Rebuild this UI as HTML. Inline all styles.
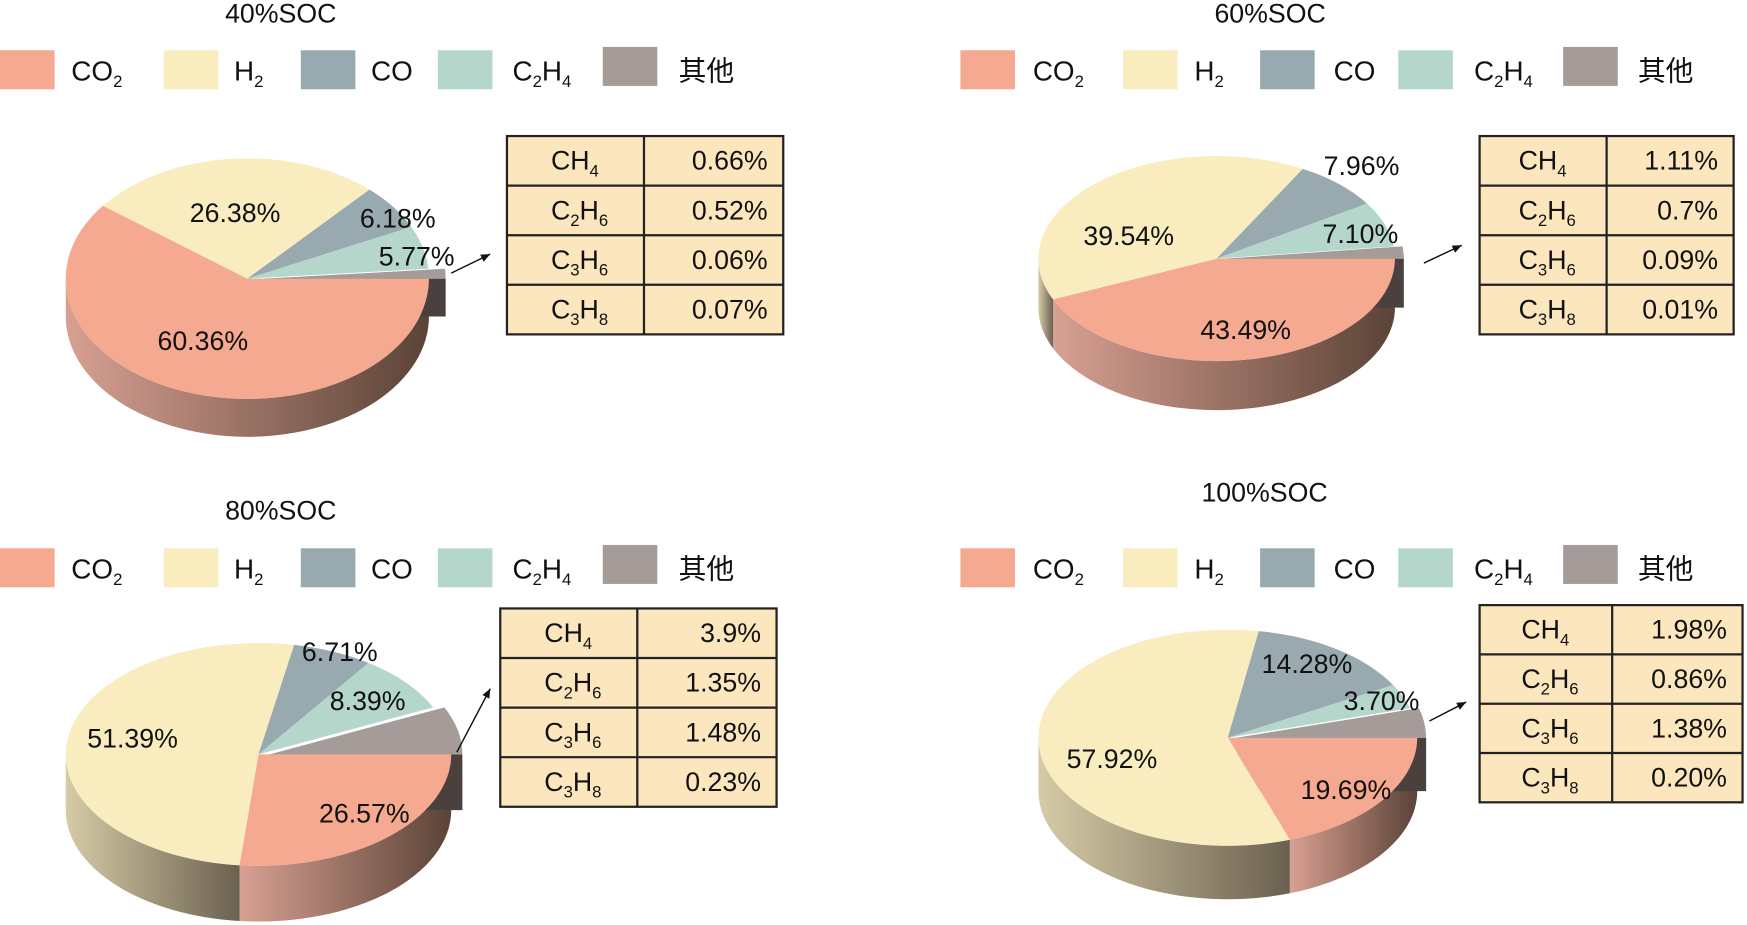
<!DOCTYPE html>
<html><head><meta charset="utf-8"><style>
html,body{margin:0;padding:0;background:#fff;}
svg{display:block;}
text{font-family:"Liberation Sans","Noto Sans CJK SC",sans-serif;fill:#111;}
</style></head><body>
<svg id="chart" width="1747" height="925" viewBox="0 0 1568 830" xmlns="http://www.w3.org/2000/svg">
<defs>
<linearGradient id="gCO2" x1="0" x2="1" y1="0" y2="0"><stop offset="0" stop-color="#d7a092"/><stop offset="1" stop-color="#5b4337"/></linearGradient>
<linearGradient id="gH2" x1="0" x2="1" y1="0" y2="0"><stop offset="0" stop-color="#d6cba6"/><stop offset="1" stop-color="#6b6150"/></linearGradient>
<linearGradient id="gCO" x1="0" x2="1"><stop offset="0" stop-color="#8a9aa0"/><stop offset="1" stop-color="#4d585c"/></linearGradient>
<linearGradient id="gC2H4" x1="0" x2="1"><stop offset="0" stop-color="#9fbcb3"/><stop offset="1" stop-color="#55655f"/></linearGradient>
<linearGradient id="gOther" x1="0" x2="1"><stop offset="0" stop-color="#6a6260"/><stop offset="1" stop-color="#3d3634"/></linearGradient>
</defs>
</svg>
<script>
const series = ["CO2","H2","CO","C2H4","其他"];
const colors = ["#f4a990","#f9edc0","#98aab0","#b4d6cb","#a59c9a"];
const sides = ["url(#gCO2)","url(#gH2)","url(#gCO)","url(#gC2H4)","url(#gOther)"];
const socTitles = ["40%SOC","60%SOC","80%SOC","100%SOC"];
const values40 = [60.36,26.38,6.18,5.77];
const values60 = [43.49,39.54,7.96,7.10];
const values80 = [26.57,51.39,6.71,8.39];
const values100 = [19.69,57.92,14.28,3.70];
const tableNames = ["CH4","C2H6","C3H6","C3H8"];
const table40 = ["0.66%","0.52%","0.06%","0.07%"];
const table60 = ["1.11%","0.7%","0.09%","0.01%"];
const table80 = ["3.9%","1.35%","1.48%","0.23%"];
const table100 = ["1.98%","0.86%","1.38%","0.20%"];

const panels = [
 {vals:values40, tab:table40, title:[252,20], legY:45, legX:[0,147,270,393,541], txtX:[64,210,333,460,609],
  cx:222, cy:250, rx:163, ry:108, d:34, ex:15, tb:[455,122,703,300,578],
  arrow:[405,245,440,228], lab:[[182,305],[211,190],[357,195],[374,229]]},
 {vals:values60, tab:table60, title:[1140,20], legY:45, legX:[862,1008,1131,1255,1403], txtX:[927,1072,1197,1323,1470],
  cx:1092, cy:232, rx:160, ry:92, d:44, ex:8, tb:[1328,122,1556,300,1442],
  arrow:[1278,236,1312,220], lab:[[1118,295],[1013,211],[1222,148],[1221,209]]},
 {vals:values80, tab:table80, title:[252,466], legY:492, legX:[0,147,270,393,541], txtX:[64,210,333,460,609],
  cx:232, cy:677, rx:173, ry:100, d:50, ex:10, tb:[449,546,697,724,572],
  arrow:[410,675,440,618], lab:[[327,729],[119,662],[305,584],[330,628]]},
 {vals:values100, tab:table100, title:[1135,450], legY:492, legX:[862,1008,1131,1255,1403], txtX:[927,1072,1197,1323,1470],
  cx:1102, cy:662, rx:170, ry:97, d:48, ex:8, tb:[1328,543,1564,720,1447],
  arrow:[1283,647,1316,630], lab:[[1208,708],[998,680],[1173,595],[1240,628]]}
];
const svg = document.getElementById('chart');
const NS = "http://www.w3.org/2000/svg";
function mk(tag, attrs, parent){const e=document.createElementNS(NS,tag);for(const k in attrs)e.setAttribute(k,attrs[k]);(parent||svg).appendChild(e);return e;}
function formula(t, s, parent){
  // subscripts for digits
  for(const ch of s){
    const ts=document.createElementNS(NS,'tspan');
    if(/[0-9]/.test(ch)){ts.setAttribute('font-size','15');ts.setAttribute('dy','6');}
    else if(ts && t.lastDigit){ts.setAttribute('dy','-6');}
    t.lastDigit=/[0-9]/.test(ch);
    ts.textContent=ch;t.appendChild(ts);
  }
}
function pt(p,a,dy){return [p.cx+p.rx*Math.cos(a), p.cy+p.ry*Math.sin(a)+(dy||0)];}

panels.forEach((p,pi)=>{
  const g=mk('g',{});
  
  
  const tt=mk('text',{x:p.title[0],y:p.title[1],'font-size':24,'text-anchor':'middle'},g);
  
  
  tt.textContent=socTitles[pi];
  // legend
  series.forEach((s,i)=>{
    const sw=mk('rect',{x:p.legX[i],y:p.legY-(i==4?3:0),width:49,height:35,fill:colors[i]},g);
    
    
    const lt=mk('text',{x:p.txtX[i],y:p.legY+27,'font-size':25},g);
    
    
    formula(lt,s);
  });
  // slices
  const vals=p.vals.slice(); vals.push(100-vals.reduce((a,b)=>a+b,0));
  let a0=0; const angs=[];
  vals.forEach(v=>{const a1=a0+v/100*2*Math.PI; angs.push([a0,a1]); a0=a1;});
  const sideG=mk('g',{},g), topG=mk('g',{},g);
  angs.forEach(([s,e],i)=>{
    const ox=(i==4)?p.ex:0;
    const q={cx:p.cx+ox,cy:p.cy,rx:p.rx,ry:p.ry};
    // side visible where angle in [0,PI] (mod 2PI)
    [[0,Math.PI],[2*Math.PI,3*Math.PI]].forEach(([lo,hi])=>{
      const s1=Math.max(s,lo), e1=Math.min(e,hi);
      if(e1>s1){
        const A=pt(q,s1),B=pt(q,e1);
        const large=(e1-s1)>Math.PI?1:0;
        const path=`M${A[0]},${A[1]} A${q.rx},${q.ry} 0 ${large} 1 ${B[0]},${B[1]} L${B[0]},${B[1]+p.d} A${q.rx},${q.ry} 0 ${large} 0 ${A[0]},${A[1]+p.d} Z`;
        const sp=mk('path',{d:path,fill:sides[i]},sideG);
        
        
      }
    });
    if(i==4){ // exposed end face of exploded slice at angle 0
      const A=pt(q,0);
      const f=mk('path',{d:`M${q.cx},${q.cy} L${A[0]},${A[1]} L${A[0]},${A[1]+p.d} L${q.cx},${q.cy+p.d}Z`,fill:'#4a403d'},sideG);
      
      
    }
    const A=pt(q,s),B=pt(q,e);
    const large=(e-s)>Math.PI?1:0;
    const tp=mk('path',{d:`M${q.cx},${q.cy} L${A[0]},${A[1]} A${q.rx},${q.ry} 0 ${large} 1 ${B[0]},${B[1]} Z`,fill:colors[i]},topG);
    
    
  });
  // labels
  p.lab.forEach((L,i)=>{
    const t=mk('text',{x:L[0],y:L[1]+9,'font-size':24,'text-anchor':'middle'},g);
    
    
    t.textContent=p.vals[i].toFixed(2)+'%';
  });
  // arrow
  const [x1,y1,x2,y2]=p.arrow;
  const ar=mk('line',{x1,y1,x2,y2,stroke:'#111','stroke-width':1.3},g);
  
  
  const ang=Math.atan2(y2-y1,x2-x1), hl=9;
  mk('polygon',{points:`${x2},${y2} ${x2-hl*Math.cos(ang-0.4)},${y2-hl*Math.sin(ang-0.4)} ${x2-hl*Math.cos(ang+0.4)},${y2-hl*Math.sin(ang+0.4)}`,fill:'#111'},g);
  // table
  const [tx0,ty0,tx1,ty1,tsplit]=p.tb;
  const tg=mk('g',{},g);
  
  
  mk('rect',{x:tx0,y:ty0,width:tx1-tx0,height:ty1-ty0,fill:'#fce6bd',stroke:'#222','stroke-width':2},tg);
  const rh=(ty1-ty0)/4;
  for(let r=1;r<4;r++) mk('line',{x1:tx0,x2:tx1,y1:ty0+r*rh,y2:ty0+r*rh,stroke:'#222','stroke-width':2},tg);
  mk('line',{x1:tsplit,x2:tsplit,y1:ty0,y2:ty1,stroke:'#222','stroke-width':2},tg);
  tableNames.forEach((n,r)=>{
    const t=mk('text',{x:(tx0+tsplit)/2-22,y:ty0+r*rh+rh/2+8,'font-size':24},tg);
    
    
    formula(t,n);
    const v=mk('text',{x:tx1-14,y:ty0+r*rh+rh/2+8,'font-size':24,'text-anchor':'end'},tg);
    
    
    v.textContent=p.tab[r];
  });
});
</script>
</body></html>
